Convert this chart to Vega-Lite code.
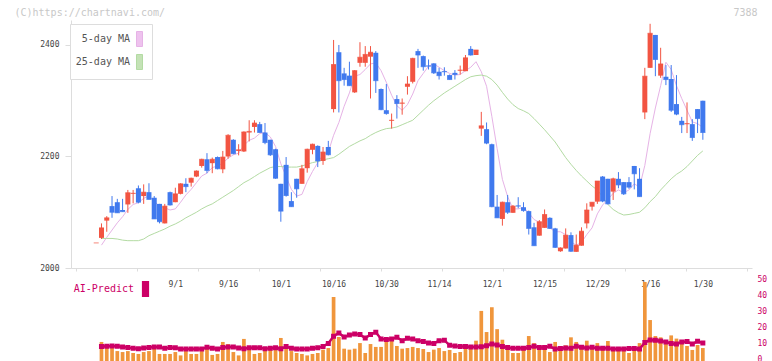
{
 "$schema": "https://vega.github.io/schema/vega-lite/v6.json",
 "padding": {"left": 14, "top": 7, "right": 4, "bottom": 0},
 "background": "white",
 "spacing": 3,
 "config": {"view": {"stroke": null}, "font": "DejaVu Sans Mono", "axis": {"grid": false}},
 "datasets": {"p": [
{"i":0,"o":2045,"h":2045,"l":2045,"c":2045},
{"i":1,"o":2054,"h":2080,"l":2052,"c":2072,"m5":2041,"m25":2053,"v":11.9,"a":9.0},
{"i":2,"o":2085,"h":2093,"l":2065,"c":2090,"m5":2055,"m25":2053,"v":9.0,"a":9.2},
{"i":3,"o":2111,"h":2129,"l":2090,"c":2100,"m5":2068,"m25":2053,"v":9.5,"a":9.4},
{"i":4,"o":2118,"h":2124,"l":2099,"c":2099,"m5":2081,"m25":2052,"v":6.2,"a":9.2},
{"i":5,"o":2104,"h":2124,"l":2101,"c":2101,"m5":2092,"m25":2050,"v":5.6,"a":8.8},
{"i":6,"o":2114,"h":2140,"l":2099,"c":2135,"m5":2105,"m25":2049,"v":6.2,"a":8.5},
{"i":7,"o":2133,"h":2140,"l":2116,"c":2134,"m5":2114,"m25":2049,"v":5.0,"a":7.9},
{"i":8,"o":2143,"h":2148,"l":2116,"c":2118,"m5":2117,"m25":2049,"v":4.4,"a":7.7},
{"i":9,"o":2129,"h":2150,"l":2115,"c":2136,"m5":2125,"m25":2052,"v":5.6,"a":8.1},
{"i":10,"o":2136,"h":2152,"l":2123,"c":2123,"m5":2129,"m25":2058,"v":6.2,"a":8.5},
{"i":11,"o":2126,"h":2129,"l":2088,"c":2088,"m5":2120,"m25":2062,"v":7.7,"a":8.8},
{"i":12,"o":2115,"h":2115,"l":2080,"c":2083,"m5":2110,"m25":2066,"v":4.4,"a":8.8},
{"i":13,"o":2080,"h":2115,"l":2080,"c":2111,"m5":2108,"m25":2070,"v":4.4,"a":7.9},
{"i":14,"o":2136,"h":2137,"l":2112,"c":2113,"m5":2104,"m25":2075,"v":4.4,"a":8.5},
{"i":15,"o":2118,"h":2144,"l":2118,"c":2133,"m5":2106,"m25":2079,"v":5.6,"a":8.3},
{"i":16,"o":2133,"h":2152,"l":2132,"c":2151,"m5":2118,"m25":2084,"v":3.5,"a":7.5},
{"i":17,"o":2151,"h":2161,"l":2136,"c":2146,"m5":2131,"m25":2090,"v":6.2,"a":7.5},
{"i":18,"o":2153,"h":2162,"l":2146,"c":2161,"m5":2141,"m25":2095,"v":4.4,"a":7.5},
{"i":19,"o":2164,"h":2175,"l":2163,"c":2174,"m5":2153,"m25":2100,"v":4.4,"a":7.5},
{"i":20,"o":2183,"h":2196,"l":2180,"c":2195,"m5":2165,"m25":2106,"v":6.2,"a":7.5},
{"i":21,"o":2195,"h":2206,"l":2170,"c":2175,"m5":2170,"m25":2111,"v":7.7,"a":8.6},
{"i":22,"o":2188,"h":2198,"l":2170,"c":2195,"m5":2180,"m25":2115,"v":3.8,"a":8.0},
{"i":23,"o":2199,"h":2200,"l":2177,"c":2178,"m5":2183,"m25":2121,"v":4.4,"a":7.5},
{"i":24,"o":2177,"h":2210,"l":2170,"c":2199,"m5":2188,"m25":2127,"v":11.9,"a":8.5},
{"i":25,"o":2200,"h":2240,"l":2196,"c":2238,"m5":2197,"m25":2133,"v":10.6,"a":8.8},
{"i":26,"o":2230,"h":2231,"l":2204,"c":2205,"m5":2203,"m25":2139,"v":5.6,"a":8.8},
{"i":27,"o":2210,"h":2222,"l":2202,"c":2212,"m5":2206,"m25":2146,"v":3.5,"a":8.2},
{"i":28,"o":2209,"h":2245,"l":2208,"c":2244,"m5":2220,"m25":2153,"v":13.8,"a":7.6},
{"i":29,"o":2243,"h":2265,"l":2227,"c":2245,"m5":2229,"m25":2158,"v":9.0,"a":8.3},
{"i":30,"o":2253,"h":2265,"l":2243,"c":2260,"m5":2233,"m25":2164,"v":4.4,"a":8.3},
{"i":31,"o":2258,"h":2262,"l":2243,"c":2243,"m5":2241,"m25":2170,"v":5.0,"a":8.3},
{"i":32,"o":2243,"h":2260,"l":2222,"c":2225,"m5":2243,"m25":2175,"v":7.7,"a":7.6},
{"i":33,"o":2230,"h":2230,"l":2201,"c":2203,"m5":2235,"m25":2180,"v":9.2,"a":8.0},
{"i":34,"o":2213,"h":2214,"l":2160,"c":2161,"m5":2218,"m25":2182,"v":9.2,"a":8.3},
{"i":35,"o":2151,"h":2151,"l":2083,"c":2102,"m5":2187,"m25":2182,"v":14.4,"a":7.6},
{"i":36,"o":2185,"h":2199,"l":2128,"c":2130,"m5":2164,"m25":2181,"v":10.6,"a":9.0},
{"i":37,"o":2120,"h":2136,"l":2110,"c":2110,"m5":2141,"m25":2181,"v":6.2,"a":7.9},
{"i":38,"o":2160,"h":2160,"l":2126,"c":2142,"m5":2129,"m25":2181,"v":5.0,"a":7.5},
{"i":39,"o":2151,"h":2185,"l":2151,"c":2178,"m5":2132,"m25":2183,"v":4.4,"a":7.5},
{"i":40,"o":2179,"h":2214,"l":2171,"c":2213,"m5":2155,"m25":2186,"v":3.5,"a":7.5},
{"i":41,"o":2212,"h":2223,"l":2204,"c":2222,"m5":2173,"m25":2189,"v":4.4,"a":8.0},
{"i":42,"o":2219,"h":2220,"l":2181,"c":2192,"m5":2189,"m25":2191,"v":5.0,"a":8.3},
{"i":43,"o":2192,"h":2217,"l":2185,"c":2208,"m5":2203,"m25":2194,"v":7.1,"a":9.0},
{"i":44,"o":2217,"h":2228,"l":2202,"c":2203,"m5":2208,"m25":2196,"v":8.1,"a":11.0},
{"i":45,"o":2285,"h":2409,"l":2279,"c":2365,"m5":2238,"m25":2198,"v":40,"a":15.5},
{"i":46,"o":2387,"h":2400,"l":2279,"c":2336,"m5":2261,"m25":2204,"v":15,"a":17.5},
{"i":47,"o":2349,"h":2359,"l":2327,"c":2338,"m5":2290,"m25":2211,"v":7.7,"a":15.0},
{"i":48,"o":2345,"h":2370,"l":2327,"c":2327,"m5":2314,"m25":2218,"v":7.1,"a":16.2},
{"i":49,"o":2315,"h":2355,"l":2314,"c":2354,"m5":2344,"m25":2223,"v":7.7,"a":16.9},
{"i":50,"o":2368,"h":2405,"l":2361,"c":2378,"m5":2347,"m25":2228,"v":11.2,"a":16.5},
{"i":51,"o":2368,"h":2398,"l":2361,"c":2383,"m5":2356,"m25":2232,"v":5.0,"a":14.4},
{"i":52,"o":2379,"h":2398,"l":2304,"c":2387,"m5":2366,"m25":2238,"v":10.6,"a":16.5},
{"i":53,"o":2386,"h":2389,"l":2314,"c":2336,"m5":2368,"m25":2243,"v":8.8,"a":18.0},
{"i":54,"o":2321,"h":2322,"l":2283,"c":2284,"m5":2354,"m25":2247,"v":8.8,"a":13.8},
{"i":55,"o":2283,"h":2330,"l":2275,"c":2277,"m5":2333,"m25":2250,"v":11.9,"a":13.5},
{"i":56,"o":2264,"h":2277,"l":2250,"c":2265,"m5":2310,"m25":2251,"v":12.7,"a":13.8},
{"i":57,"o":2303,"h":2310,"l":2268,"c":2295,"m5":2291,"m25":2253,"v":9.4,"a":14.8},
{"i":58,"o":2295,"h":2304,"l":2275,"c":2296,"m5":2283,"m25":2257,"v":7.7,"a":12.7},
{"i":59,"o":2325,"h":2344,"l":2311,"c":2330,"m5":2293,"m25":2261,"v":8.1,"a":14.2},
{"i":60,"o":2334,"h":2377,"l":2331,"c":2376,"m5":2312,"m25":2265,"v":8.8,"a":13.8},
{"i":61,"o":2389,"h":2393,"l":2359,"c":2382,"m5":2336,"m25":2274,"v":8.1,"a":12.7},
{"i":62,"o":2380,"h":2381,"l":2354,"c":2361,"m5":2349,"m25":2283,"v":7.5,"a":12.2},
{"i":63,"o":2363,"h":2374,"l":2356,"c":2362,"m5":2362,"m25":2292,"v":5.6,"a":11.2},
{"i":64,"o":2367,"h":2367,"l":2348,"c":2350,"m5":2366,"m25":2300,"v":7.1,"a":11.0},
{"i":65,"o":2352,"h":2359,"l":2338,"c":2345,"m5":2360,"m25":2307,"v":8.1,"a":12.6},
{"i":66,"o":2353,"h":2360,"l":2345,"c":2352,"m5":2354,"m25":2314,"v":6.2,"a":13.0},
{"i":67,"o":2346,"h":2347,"l":2338,"c":2338,"m5":2349,"m25":2320,"v":6.9,"a":9.8},
{"i":68,"o":2350,"h":2355,"l":2338,"c":2347,"m5":2346,"m25":2326,"v":5.0,"a":9.3},
{"i":69,"o":2354,"h":2363,"l":2347,"c":2355,"m5":2347,"m25":2332,"v":5.6,"a":9.0},
{"i":70,"o":2353,"h":2382,"l":2353,"c":2377,"m5":2354,"m25":2338,"v":8.8,"a":9.0},
{"i":71,"o":2393,"h":2398,"l":2381,"c":2382,"m5":2360,"m25":2343,"v":8.8,"a":8.8},
{"i":72,"o":2382,"h":2391,"l":2382,"c":2391,"m5":2370,"m25":2345,"v":12.7,"a":8.8},
{"i":73,"o":2250,"h":2280,"l":2237,"c":2255,"m5":2352,"m25":2346,"v":31.3,"a":8.9},
{"i":74,"o":2249,"h":2261,"l":2222,"c":2224,"m5":2326,"m25":2344,"v":18.1,"a":9.6},
{"i":75,"o":2222,"h":2223,"l":2109,"c":2110,"m5":2272,"m25":2338,"v":33.6,"a":10.6},
{"i":76,"o":2110,"h":2131,"l":2090,"c":2090,"m5":2214,"m25":2328,"v":19.9,"a":10.0},
{"i":77,"o":2088,"h":2119,"l":2076,"c":2118,"m5":2159,"m25":2315,"v":13.3,"a":9.0},
{"i":78,"o":2118,"h":2131,"l":2097,"c":2100,"m5":2128,"m25":2303,"v":8.8,"a":8.5},
{"i":79,"o":2099,"h":2113,"l":2099,"c":2111,"m5":2106,"m25":2293,"v":5.0,"a":7.9},
{"i":80,"o":2112,"h":2127,"l":2107,"c":2111,"m5":2106,"m25":2286,"v":5.0,"a":7.9},
{"i":81,"o":2109,"h":2118,"l":2101,"c":2103,"m5":2109,"m25":2282,"v":7.5,"a":7.9},
{"i":82,"o":2102,"h":2103,"l":2060,"c":2071,"m5":2099,"m25":2277,"v":15.6,"a":8.5},
{"i":83,"o":2073,"h":2081,"l":2040,"c":2040,"m5":2087,"m25":2268,"v":11.2,"a":9.2},
{"i":84,"o":2058,"h":2086,"l":2058,"c":2083,"m5":2082,"m25":2258,"v":7.5,"a":8.5},
{"i":85,"o":2072,"h":2105,"l":2072,"c":2096,"m5":2079,"m25":2248,"v":7.5,"a":8.5},
{"i":86,"o":2090,"h":2091,"l":2070,"c":2071,"m5":2072,"m25":2237,"v":5.6,"a":9.2},
{"i":87,"o":2071,"h":2072,"l":2036,"c":2037,"m5":2065,"m25":2226,"v":11.9,"a":7.5},
{"i":88,"o":2030,"h":2037,"l":2029,"c":2036,"m5":2065,"m25":2212,"v":7.5,"a":7.8},
{"i":89,"o":2035,"h":2071,"l":2035,"c":2059,"m5":2060,"m25":2198,"v":9.8,"a":8.2},
{"i":90,"o":2059,"h":2064,"l":2029,"c":2030,"m5":2047,"m25":2186,"v":14.8,"a":8.0},
{"i":91,"o":2029,"h":2060,"l":2029,"c":2041,"m5":2041,"m25":2175,"v":11.9,"a":9.2},
{"i":92,"o":2040,"h":2073,"l":2040,"c":2066,"m5":2046,"m25":2165,"v":9.4,"a":8.6},
{"i":93,"o":2080,"h":2116,"l":2071,"c":2104,"m5":2060,"m25":2156,"v":12.7,"a":8.2},
{"i":94,"o":2110,"h":2118,"l":2103,"c":2118,"m5":2072,"m25":2147,"v":10,"a":8.6},
{"i":95,"o":2119,"h":2156,"l":2115,"c":2156,"m5":2097,"m25":2140,"v":11.2,"a":7.9},
{"i":96,"o":2164,"h":2165,"l":2118,"c":2120,"m5":2113,"m25":2128,"v":7.5,"a":8.0},
{"i":97,"o":2160,"h":2160,"l":2114,"c":2115,"m5":2123,"m25":2114,"v":12.5,"a":8.0},
{"i":98,"o":2137,"h":2162,"l":2122,"c":2160,"m5":2134,"m25":2105,"v":7.5,"a":7.5},
{"i":99,"o":2160,"h":2172,"l":2143,"c":2149,"m5":2140,"m25":2099,"v":7.5,"a":7.5},
{"i":100,"o":2154,"h":2154,"l":2131,"c":2133,"m5":2135,"m25":2095,"v":8.8,"a":7.5},
{"i":101,"o":2154,"h":2163,"l":2142,"c":2145,"m5":2140,"m25":2096,"v":5.0,"a":7.8},
{"i":102,"o":2183,"h":2183,"l":2141,"c":2169,"m5":2151,"m25":2098,"v":9.4,"a":7.8},
{"i":103,"o":2160,"h":2179,"l":2128,"c":2128,"m5":2145,"m25":2100,"v":11.2,"a":7.5},
{"i":104,"o":2279,"h":2359,"l":2267,"c":2344,"m5":2184,"m25":2108,"v":49.4,"a":11.5},
{"i":105,"o":2359,"h":2438,"l":2359,"c":2421,"m5":2241,"m25":2119,"v":25.6,"a":13.2},
{"i":106,"o":2418,"h":2418,"l":2344,"c":2374,"m5":2287,"m25":2128,"v":15.6,"a":13.0},
{"i":107,"o":2345,"h":2395,"l":2341,"c":2366,"m5":2327,"m25":2140,"v":14.8,"a":12.5},
{"i":108,"o":2343,"h":2364,"l":2328,"c":2338,"m5":2369,"m25":2150,"v":11.9,"a":11.9},
{"i":109,"o":2339,"h":2364,"l":2280,"c":2283,"m5":2356,"m25":2160,"v":16,"a":11.0},
{"i":110,"o":2294,"h":2346,"l":2274,"c":2276,"m5":2327,"m25":2168,"v":14,"a":10.6},
{"i":111,"o":2264,"h":2271,"l":2242,"c":2257,"m5":2304,"m25":2174,"v":11.2,"a":11.9},
{"i":112,"o":2258,"h":2297,"l":2242,"c":2259,"m5":2283,"m25":2182,"v":9.4,"a":12.2},
{"i":113,"o":2258,"h":2267,"l":2228,"c":2234,"m5":2262,"m25":2192,"v":6.9,"a":10.6},
{"i":114,"o":2285,"h":2285,"l":2242,"c":2268,"m5":2259,"m25":2202,"v":10,"a":12.4},
{"i":115,"o":2300,"h":2300,"l":2230,"c":2243,"m5":2252,"m25":2210,"v":8.1,"a":11.2}
 ]},
 "resolve": {"scale": {"color": "independent", "stroke": "independent"}, "legend": {"color": "independent", "stroke": "independent"}},
 "vconcat": [
  {
   "width": 681,
   "height": 248,
   "data": {"name": "p"},
   "encoding": {
    "x": {"field": "i", "type": "quantitative",
     "scale": {"domain": [-3.83, 123.37], "nice": false, "zero": false},
     "axis": {"values": [-3.83, 7.73, 19.30, 30.86, 42.43, 53.99, 65.55, 77.12, 88.68, 100.25, 111.81, 123.37],
      "labels": false, "domainColor": "#dddddd", "tickColor": "#dddddd", "tickSize": 3,
      "title": "7388", "titleX": 686, "titleY": -256, "titleAlign": "right", "titleBaseline": "middle",
      "titleColor": "#c8c8c8", "titleFont": "DejaVu Sans Mono", "titleFontSize": 10, "titleFontWeight": "normal"}}
   },
   "layer": [
    {"mark": {"type": "line", "strokeWidth": 1, "interpolate": "linear"},
     "encoding": {
      "y": {"field": "m5", "type": "quantitative", "scale": {"domain": [2000, 2444.8], "nice": false, "zero": false},
       "axis": {"values": [2000, 2200, 2400], "format": "d", "domainColor": "#dddddd", "tickColor": "#dddddd", "tickSize": 6,
        "labelFont": "DejaVu Sans Mono", "labelFontSize": 8, "labelColor": "#444444", "labelPadding": 6,
        "title": "(C)https://chartnavi.com/", "titleAngle": 0, "titleX": -57, "titleY": -8, "titleAlign": "left",
        "titleBaseline": "middle", "titleColor": "#c8c8c8", "titleFont": "DejaVu Sans Mono", "titleFontSize": 10, "titleFontWeight": "normal"}},
      "color": {"datum": "5-day MA", "type": "nominal",
       "scale": {"domain": ["5-day MA", "25-day MA"], "range": ["#e6b3e6", "#b3dba3"]},
       "legend": {"orient": "none", "legendX": -1, "legendY": 4, "title": null,
        "fillColor": "white", "strokeColor": "#dddddd", "padding": 7,
        "symbolType": "M-0.4,-1H0.4V1H-0.4Z", "symbolSize": 225, "symbolStrokeColor": "#555555", "symbolStrokeWidth": 1,
        "symbolOffset": 54.5, "labelAlign": "right", "labelOffset": -17.5,
        "labelFont": "DejaVu Sans Mono", "labelFontSize": 10, "labelColor": "#555555", "rowPadding": 3,
        "encode": {"symbols": {"update": {"fill": [{"test": "datum.value === '5-day MA'", "value": "#eec2ee"}, {"value": "#c4e2b6"}], "stroke": {"value": "#555555"}, "strokeWidth": {"value": 1}}},
                   "labels": {"update": {"align": {"value": "right"}}}}}}
     }},
    {"mark": {"type": "line", "strokeWidth": 1},
     "encoding": {"y": {"field": "m25", "type": "quantitative"}, "color": {"datum": "25-day MA", "type": "nominal"}}},
    {"mark": {"type": "rule", "strokeWidth": 1},
     "encoding": {"y": {"field": "l", "type": "quantitative"}, "y2": {"field": "h"},
      "color": {"condition": {"test": "datum.c >= datum.o", "value": "#f25442"}, "value": "#4079ee"}}},
    {"mark": {"type": "bar", "size": 5},
     "encoding": {"y": {"field": "o", "type": "quantitative"}, "y2": {"field": "c"},
      "color": {"condition": {"test": "datum.c >= datum.o", "value": "#f25442"}, "value": "#4079ee"}}},
    {"mark": {"type": "tick", "orient": "horizontal", "size": 5, "thickness": 1},
     "encoding": {"y": {"field": "c", "type": "quantitative"},
      "color": {"condition": {"test": "datum.c >= datum.o", "value": "#f25442"}, "value": "#4079ee"}}}
   ]
  },
  {
   "width": 681,
   "height": 80,
   "data": {"name": "p"},
   "resolve": {"axis": {"y": "independent"}},
   "encoding": {
    "x": {"field": "i", "type": "quantitative",
     "scale": {"domain": [-3.83, 123.37], "nice": false, "zero": false},
     "axis": {"orient": "top", "values": [15, 25, 35, 45, 55, 65, 75, 85, 95, 105, 115],
      "labelExpr": "['9/1','9/16','10/1','10/16','10/30','11/14','12/1','12/15','12/29','1/16','1/30'][round((datum.value-15)/10)]",
      "domain": false, "ticks": false, "tickSize": 0, "labelPadding": -3, "labelBaseline": "middle",
      "labelFont": "DejaVu Sans Mono", "labelFontSize": 8, "labelColor": "#444444", "title": null}}
   },
   "layer": [
    {"mark": {"type": "bar", "size": 3.7, "color": "#f0963c"},
     "encoding": {"y": {"field": "v", "type": "quantitative", "scale": {"domain": [0, 50], "nice": false},
      "axis": {"orient": "right", "values": [0, 10, 20, 30, 40, 50], "domain": false, "ticks": false, "labelPadding": 5,
       "labelOverlap": false, "labelFlush": false, "labelBaseline": "middle", "labelOffset": -1.5,
       "labelFont": "DejaVu Sans Mono", "labelFontSize": 8, "labelColor": "#cc0066", "title": null}}}},
    {"mark": {"type": "line", "strokeWidth": 2.5, "point": {"shape": "square", "size": 9, "filled": true, "color": "#cc0066"}},
     "encoding": {"y": {"field": "a", "type": "quantitative", "axis": null},
      "stroke": {"datum": "AI-Predict", "type": "nominal", "scale": {"domain": ["AI-Predict"], "range": ["#cc0066"]},
       "legend": {"orient": "none", "legendX": 3, "legendY": 0, "title": null, "padding": 0,
        "symbolType": "M-0.45,-1H0.45V1H-0.45Z", "symbolSize": 256, "symbolFillColor": "#cc0066", "symbolStrokeWidth": 0,
        "symbolOffset": 63.5, "labelAlign": "right", "labelOffset": -19.5,
        "labelFont": "DejaVu Sans Mono", "labelFontSize": 10, "labelColor": "#cc0066",
        "encode": {"symbols": {"update": {"fill": {"value": "#cc0066"}, "stroke": {"value": "#cc0066"}, "strokeWidth": {"value": 0}}},
                   "labels": {"update": {"align": {"value": "right"}}}}}}}}
   ]
  }
 ]
}
